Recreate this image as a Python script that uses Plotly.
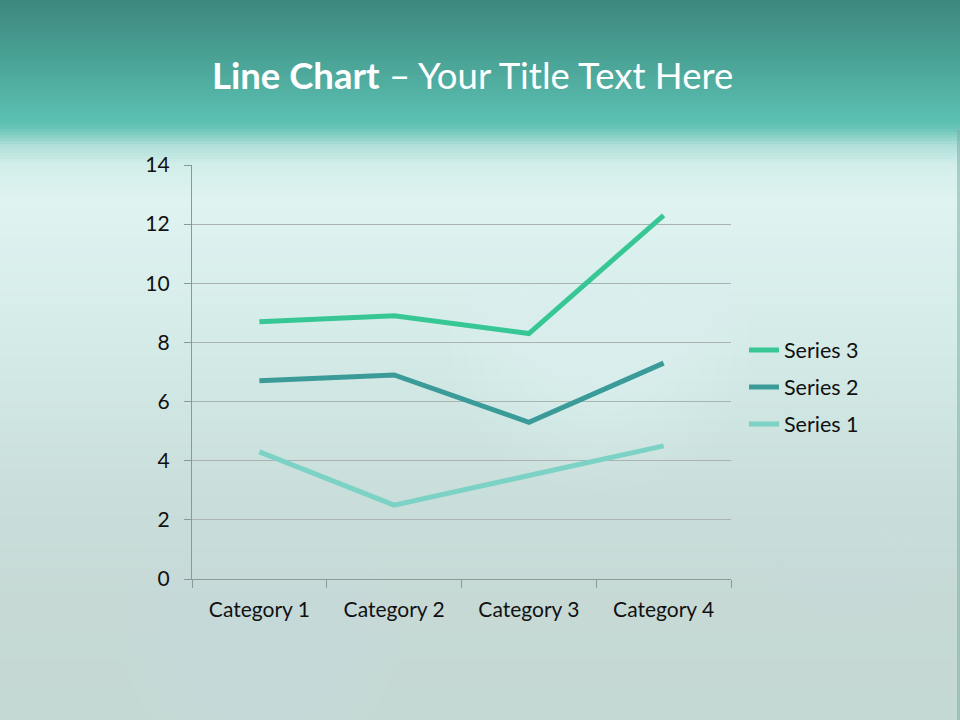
import plotly.graph_objects as go

categories = ["Category 1", "Category 2", "Category 3", "Category 4"]
series_1 = [4.3, 2.5, 3.5, 4.5]
series_2 = [2.4, 4.4, 1.8, 2.8]
series_3 = [2.0, 2.0, 3.0, 5.0]
series_names = ["Series 1", "Series 2", "Series 3"]
series_colors = ["#7cd2c4", "#3a9b99", "#37c795"]
y_ticks = [0, 2, 4, 6, 8, 10, 12, 14]

W, H = 960, 720
L, R, T, B = 192, 229, 165, 141
PW, PH = W - L - R, H - T - B

def px_x(x):
    return (x - L) / PW

def px_y(y):
    return (H - B - y) / PH

def hex2rgb(h):
    h = h.lstrip("#")
    return [int(h[i:i + 2], 16) for i in (0, 2, 4)]

stops = [
    (0, "#3d877e"), (60, "#4aa396"), (122, "#5bc0b2"), (130, "#6ec6b9"),
    (145, "#aedfd7"), (165, "#d2eeea"), (200, "#dff3f1"), (300, "#d8eeeb"),
    (400, "#d0e6e3"), (500, "#c9dedb"), (600, "#c6d9d5"), (720, "#c4d8d4"),
]

def color_at(y):
    for (y0, c0), (y1, c1) in zip(stops[:-1], stops[1:]):
        if y0 <= y <= y1:
            t = (y - y0) / (y1 - y0) if y1 > y0 else 0
            a, b = hex2rgb(c0), hex2rgb(c1)
            return "rgb(%d,%d,%d)" % tuple(round(a[i] + (b[i] - a[i]) * t) for i in range(3))
    return stops[-1][1]

shapes = []
step = 3
for y in range(0, H, step):
    shapes.append(dict(
        type="rect", xref="paper", yref="paper", layer="below",
        x0=px_x(-2), x1=px_x(W + 2), y0=px_y(y + step + 0.5), y1=px_y(y),
        fillcolor=color_at(y + step / 2), line=dict(width=0),
    ))

# soft light blobs (concentric, low opacity for a blurred look)
blobs = [
    (260, 630, 140, (222, 242, 245)),
    (600, 340, 150, (236, 248, 249)),
    (850, 500, 120, (214, 234, 232)),
]
for cx, cy, r, (cr, cg, cb) in blobs:
    n = 10
    for k in range(n):
        rr = r * (1 - k / n)
        shapes.append(dict(
            type="circle", xref="paper", yref="paper", layer="below",
            x0=px_x(cx - rr), x1=px_x(cx + rr), y0=px_y(cy + rr), y1=px_y(cy - rr),
            fillcolor="rgba(%d,%d,%d,0.05)" % (cr, cg, cb), line=dict(width=0),
        ))
# thin darker strip at right edge
shapes.append(dict(
    type="rect", xref="paper", yref="paper", layer="below",
    x0=px_x(957), x1=px_x(962), y0=px_y(722), y1=px_y(130),
    fillcolor="rgba(120,170,165,0.5)", line=dict(width=0),
))

fig = go.Figure()
legend_ranks = [3, 2, 1]
for name, vals, col, rank in zip(series_names, [series_1, series_2, series_3], series_colors, legend_ranks):
    fig.add_trace(go.Scatter(
        x=categories, y=vals, name=name, mode="lines",
        stackgroup="one", fill="none", legendgroup=name, legendrank=rank,
        line=dict(color=col, width=5), hoverinfo="skip",
    ))

FONT = "Lato, 'Open Sans', sans-serif"
fig.update_layout(
    width=W, height=H,
    margin=dict(l=L, r=R, t=T, b=B),
    paper_bgcolor="#d6ebe8", plot_bgcolor="rgba(0,0,0,0)",
    shapes=shapes,
    showlegend=True,
    legend=dict(
        x=px_x(744), y=px_y(387), xanchor="left", yanchor="middle",
        traceorder="grouped", tracegroupgap=6,
        font=dict(family=FONT, size=21.5, color="#111111"),
        bgcolor="rgba(0,0,0,0)", itemwidth=30,
    ),
    xaxis=dict(
        type="category", range=[-0.5, 3.5], tickson="boundaries",
        showgrid=False, showline=True, linecolor="#8a9896", linewidth=1.3,
        ticks="outside", ticklen=8, tickcolor="#8a9896",
        ticklabelstandoff=12,
        tickfont=dict(family=FONT, size=21, color="#111111"),
        fixedrange=True,
    ),
    yaxis=dict(
        range=[0, 14], tickvals=y_ticks, showgrid=True, gridcolor="#a9b3b1", gridwidth=1,
        showline=True, linecolor="#8a9896", linewidth=1.3, zeroline=False,
        ticks="outside", ticklen=7, tickcolor="#8a9896",
        ticklabelstandoff=10,
        tickfont=dict(family=FONT, size=21, color="#111111"),
        fixedrange=True,
    ),
    annotations=[dict(
        xref="paper", yref="paper", x=px_x(472), y=px_y(75),
        xanchor="center", yanchor="middle", showarrow=False,
        text="<b>Line Chart</b> – Your Title Text Here",
        font=dict(family=FONT, size=36.5, color="#ffffff"),
    )],
)

fig.write_html(
    "out.html",
    config={"displayModeBar": False},
    post_script="document.body.style.margin='0';document.body.style.overflow='hidden';",
)
